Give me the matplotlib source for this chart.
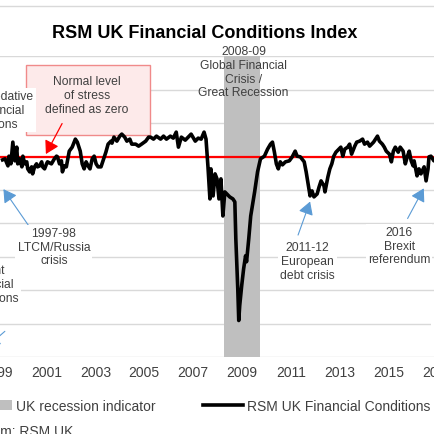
import matplotlib
matplotlib.use("Agg")
import matplotlib.pyplot as plt
from matplotlib.patches import Rectangle
from matplotlib.lines import Line2D

plt.rcParams['font.family'] = ['Liberation Sans', 'DejaVu Sans']

# RSM UK financial conditions index (decimal years)
dates = [1999.20, 1999.30, 1999.42, 1999.46, 1999.54, 1999.62, 1999.70, 1999.78, 1999.82, 1999.90,
         1999.99, 2000.03, 2000.11, 2000.19, 2000.23, 2000.31, 2000.39, 2000.43, 2000.51, 2000.59,
         2000.63, 2000.72, 2000.80, 2000.84, 2000.92, 2001.00, 2001.04, 2001.20, 2001.32, 2001.41,
         2001.45, 2001.53, 2001.61, 2001.65, 2001.73, 2001.81, 2001.93, 2002.05, 2002.18, 2002.26,
         2002.38, 2002.46, 2002.54, 2002.62, 2002.70, 2002.78, 2002.87, 2002.95, 2003.03, 2003.11,
         2003.23, 2003.31, 2003.43, 2003.52, 2003.64, 2003.68, 2003.76, 2003.88, 2004.00, 2004.08,
         2004.20, 2004.29, 2004.41, 2004.49, 2004.65, 2004.77, 2004.89, 2005.06, 2005.18, 2005.26,
         2005.38, 2005.50, 2005.67, 2005.79, 2005.91, 2006.07, 2006.19, 2006.31, 2006.40, 2006.52,
         2006.68, 2006.80, 2006.92, 2007.09, 2007.21, 2007.33, 2007.45, 2007.53, 2007.61, 2007.69,
         2007.73, 2007.82, 2007.90, 2007.98, 2008.06, 2008.14, 2008.22, 2008.30, 2008.42, 2008.50,
         2008.63, 2008.71, 2008.75, 2008.83, 2008.87, 2008.91, 2008.99, 2009.07, 2009.15, 2009.19,
         2009.28, 2009.36, 2009.52, 2009.64, 2009.76, 2009.92, 2010.05, 2010.17, 2010.25, 2010.33,
         2010.41, 2010.49, 2010.57, 2010.66, 2010.78, 2010.94, 2011.06, 2011.18, 2011.26, 2011.39,
         2011.55, 2011.63, 2011.71, 2011.79, 2011.87, 2011.95, 2012.08, 2012.16, 2012.24, 2012.36,
         2012.40, 2012.52, 2012.60, 2012.68, 2012.76, 2012.85, 2012.97, 2013.05, 2013.13, 2013.21,
         2013.33, 2013.41, 2013.49, 2013.62, 2013.70, 2013.82, 2013.94, 2014.02, 2014.14, 2014.23,
         2014.39, 2014.47, 2014.55, 2014.63, 2014.75, 2014.83, 2014.91, 2015.04, 2015.12, 2015.20,
         2015.28, 2015.40, 2015.48, 2015.60, 2015.69, 2015.77, 2015.85, 2015.93, 2016.01, 2016.05,
         2016.17, 2016.25, 2016.33, 2016.46, 2016.54, 2016.62, 2016.66, 2016.74, 2016.86, 2016.94,
         2017.05]
fci = [-0.10, -0.07, -0.28, 0.01, -0.22, 0.43, -0.13, 0.28, -0.22, -0.07,
       -0.31, 0.01, -0.22, -0.16, -0.37, -0.46, -0.31, -0.52, -0.31, -0.22,
       -0.31, -0.28, -0.16, -0.31, -0.37, -0.22, -0.16, -0.22, -0.07, 0.01,
       -0.01, -0.22, -0.13, -0.46, -0.28, -0.31, 0.16, 0.28, 0.52, 0.43,
       0.16, -0.22, -0.37, -0.16, -0.28, -0.37, -0.07, 0.01, -0.22, -0.31,
       -0.31, -0.13, 0.13, 0.37, 0.46, 0.40, 0.58, 0.46, 0.61, 0.67,
       0.58, 0.46, 0.52, 0.37, 0.37, 0.31, 0.37, 0.46, 0.58, 0.58,
       0.52, 0.61, 0.52, 0.61, 0.52, 0.61, 0.55, 0.73, 0.28, 0.58,
       0.49, 0.58, 0.67, 0.46, 0.55, 0.52, 0.73, 0.52, -0.31, -1.27,
       -0.37, -1.18, -0.52, -0.67, -1.27, -0.67, -1.78, -1.06, -1.15, -1.21,
       -1.27, -1.36, -2.46, -3.96, -4.91, -4.46, -3.87, -3.36, -2.97, -3.15,
       -2.46, -1.78, -1.06, -0.46, -0.07, 0.01, 0.22, 0.37, 0.43, 0.13,
       -0.22, -0.37, -0.16, -0.25, -0.16, -0.13, -0.01, 0.16, 0.01, -0.01,
       -0.16, -0.46, -0.82, -1.18, -1.03, -1.21, -1.12, -0.91, -0.73, -0.88,
       -1.06, -0.61, -0.37, -0.22, 0.01, 0.13, 0.22, 0.28, 0.01, 0.22,
       0.28, 0.37, 0.07, 0.31, 0.43, 0.46, 0.52, 0.37, 0.43, 0.31,
       0.43, 0.52, 0.61, 0.46, 0.37, 0.28, 0.16, 0.07, -0.16, 0.16,
       0.28, 0.13, 0.28, 0.16, -0.22, -0.01, 0.16, -0.13, -0.28, -0.13,
       -0.58, -0.37, -0.52, -0.31, -0.73, -0.37, -0.01, 0.01, -0.13, -0.07,
       0.00]

# UK recession indicator
rec_start = [2008.25]
rec_end = [2009.75]

years = list(range(1995, 2022, 2))

GRID = '#d9d9d9'
TXT = '#404040'
BLUE = '#5b9bd5'

fig = plt.figure(figsize=(4.35, 4.35), dpi=100)
W = H = 435.0
# plot area runs past the left and right edge of the picture
ax = fig.add_axes([-100 / W, 1 - 357.9 / H, 635 / W, 300.6 / H])
ax.set_xlim(1995.24, 2021.0)
ax.set_ylim(-6, 3)
for s in ax.spines.values():
    s.set_visible(False)
ax.set_yticks(range(-6, 4))
ax.set_xticks(years)
ax.set_xticklabels([str(y) for y in years])
ax.tick_params(length=0, labelsize=10, labelcolor=TXT, pad=6)
ax.tick_params(axis='y', left=False, labelleft=False)
ax.grid(axis='y', color=GRID, lw=1)
ax.set_axisbelow(True)

for a, b in zip(rec_start, rec_end):
    rec = ax.axvspan(a, b, color='#bfbfbf', lw=0, zorder=1, label='UK recession indicator')
ax.axhline(0, color='red', lw=1.6, zorder=3)
fci_line, = ax.plot(dates, fci, color='black', lw=2.6, zorder=4,
                    label='RSM UK Financial Conditions Index')

# pink note box with its arrow to the zero line
ax.add_patch(Rectangle((2000.15, 0.64), 5.07, 2.09, facecolor='#fdeaea',
                       edgecolor='#f08a8a', lw=1, zorder=2))
ax.text(2002.66, 1.84, 'Normal level\nof stress\ndefined as zero', ha='center', va='center',
        fontsize=8.7, color=TXT, zorder=5)
ax.annotate('', xy=(2000.92, 0.0), xytext=(2001.69, 1.06),
            arrowprops=dict(arrowstyle='-|>,head_length=0.6,head_width=0.35', mutation_scale=13,
                            color='red', lw=0.9))

ax.text(2009.07, 2.54, '2008-09\nGlobal Financial\nCrisis /\nGreat Recession', ha='center',
        va='center', fontsize=8.7, color=TXT, zorder=5)

box = dict(facecolor='white', edgecolor='none', pad=1.5)
notes = [
    (1998.71, 1.39, 'Accommodative\nand financial\nconditions'),
    (1998.77, -3.81, 'Tight\nfinancial\nconditions'),
    (2001.30, -2.70, '1997-98\nLTCM/Russia\ncrisis'),
    (2011.67, -3.12, '2011-12\nEuropean\ndebt crisis'),
    (2015.44, -2.67, '2016\nBrexit\nreferendum'),
    (2018.12, -4.79, '2020\ncoronavirus\npandemic'),
]
for x, y, t in notes:
    ax.text(x, y, t, ha='center', va='center', fontsize=8.7, color=TXT, bbox=box, zorder=5)

arrows = [
    ((2000.55, -2.37), (1999.17, -0.91)),
    ((2011.26, -2.43), (2011.83, -1.27)),
    ((2015.73, -1.93), (2016.50, -0.88)),
    ((1999.38, -5.18), (1998.48, -5.75)),
]
for tail, tip in arrows:
    ax.annotate('', xy=tip, xytext=tail,
                arrowprops=dict(arrowstyle='-|>,head_length=0.6,head_width=0.35', mutation_scale=13,
                                color=BLUE, lw=0.8))

fig.text(205 / W, 1 - 33 / H, 'RSM UK Financial Conditions Index', ha='center', va='center',
         fontsize=13, fontweight='bold', color='black')
fig.add_artist(Line2D([0, 1], [1 - 7 / H] * 2, color=GRID, lw=1))
fig.text(73 / W, 1 - 436 / H, 'Source: Bloomberg; computation from: RSM UK', ha='right',
         va='baseline', fontsize=10, color=TXT)

# legend row under the axis
fig.legend(handles=[rec, fci_line], loc='center left', bbox_to_anchor=(-34 / W, 1 - 407 / H),
           ncol=2, frameon=False, fontsize=10, labelcolor=TXT, handlelength=2.9,
           handleheight=0.65, handletextpad=0.3, columnspacing=3.4, borderaxespad=0)

fig.savefig('out.png', dpi=100)
